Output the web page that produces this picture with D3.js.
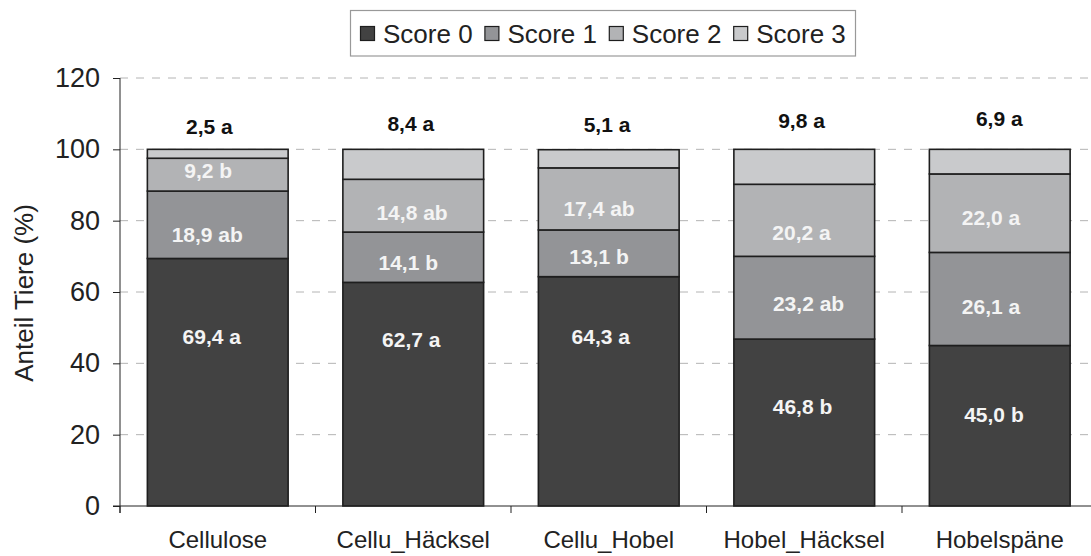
<!DOCTYPE html>
<html>
<head>
<meta charset="utf-8">
<script src="https://cdn.jsdelivr.net/npm/d3@7"></script>
<style>
  html, body { margin: 0; padding: 0; background: #fff; }
  svg { display: block; font-family: "Liberation Sans", Arial, sans-serif; }
</style>
</head>
<body>
<svg id="chart" width="1091" height="556"></svg>
<script>
// ---- data ----
const categories = ["Cellulose", "Cellu_Häcksel", "Cellu_Hobel", "Hobel_Häcksel", "Hobelspäne"];
const seriesNames = ["Score 0", "Score 1", "Score 2", "Score 3"];
const score0 = [69.4, 62.7, 64.3, 46.8, 45.0];
const score1 = [18.9, 14.1, 13.1, 23.2, 26.1];
const score2 = [9.2, 14.8, 17.4, 20.2, 22.0];
const score3 = [2.5, 8.4, 5.1, 9.8, 6.9];
const letters0 = ["a", "a", "a", "b", "b"];
const letters1 = ["ab", "b", "b", "ab", "a"];
const letters2 = ["b", "ab", "ab", "a", "a"];
const letters3 = ["a", "a", "a", "a", "a"];
const yTicks = [0, 20, 40, 60, 80, 100, 120];
const yTitle = "Anteil Tiere (%)";

// ---- layout / style (not data) ----
const colors = ["#424242", "#939497", "#b2b3b5", "#c9cacc"];
// label anchor heights (in axis units) chosen to match the manual label placement
const labelAt = [
  [47.5, 76.0, 94.0, 106.3],
  [46.7, 68.2, 82.2, 107.1],
  [47.5, 69.9, 83.5, 106.8],
  [27.8, 56.6, 76.6, 108.1],
  [25.5, 55.9, 80.9, 108.7]
];
const labelShift = [
  [-6, -10.5, -9.5, -8.4],
  [-2, -5, -1.2, -2.5],
  [-8, -9.7, -9.7, -1.7],
  [-1.7, 4.3, -2.7, -2.7],
  [-5.8, -8.7, -8.7, -0.5]
];

const series = [score0, score1, score2, score3];
const letters = [letters0, letters1, letters2, letters3];

const svg = d3.select("#chart");
const x = d3.scaleBand().domain(categories).range([120, 1097.5]).paddingInner(0.28).paddingOuter(0.14);
const y = d3.scaleLinear().domain([0, 120]).range([506, 78]);

// grid lines
svg.append("g").selectAll("line").data(yTicks.filter(d => d > 0)).join("line")
  .attr("x1", 120).attr("x2", 1097)
  .attr("y1", d => y(d)).attr("y2", d => y(d))
  .attr("stroke", "#b4b4b4").attr("stroke-width", 1)
  .attr("stroke-dasharray", "8,8");

// stacked data
const rows = categories.map((c, i) => {
  const r = { cat: c };
  seriesNames.forEach((s, j) => r[s] = series[j][i]);
  return r;
});
const stacked = d3.stack().keys(seriesNames)(rows);

const gBars = svg.append("g");
stacked.forEach((layer, j) => {
  gBars.append("g").selectAll("rect").data(layer).join("rect")
    .attr("x", d => x(d.data.cat))
    .attr("width", x.bandwidth())
    .attr("y", d => y(d[1]))
    .attr("height", d => y(d[0]) - y(d[1]))
    .attr("fill", colors[j])
    .attr("stroke", "#1e1e1e")
    .attr("stroke-width", 1.6);
});

// y axis
const yAxis = d3.axisLeft(y).tickValues(yTicks).tickSize(7).tickPadding(13).tickFormat(d3.format("d"));
const gy = svg.append("g").attr("transform", "translate(120,0)").call(yAxis);
gy.select(".domain").attr("stroke", "#222").attr("d", "M0,78V513");
gy.selectAll(".tick line").attr("stroke", "#222");
gy.selectAll(".tick text").attr("font-size", 27).attr("fill", "#222")
  .attr("font-family", "Liberation Sans, Arial, sans-serif");

// x axis
const gx = svg.append("g").attr("transform", "translate(0,506)");
gx.append("line").attr("x1", 113).attr("x2", 1097).attr("y1", 0).attr("y2", 0).attr("stroke", "#222");
const bounds = categories.map(c => x(c) - x.step() * x.paddingInner() / 2);
gx.selectAll("line.tk").data(bounds).join("line").attr("class", "tk")
  .attr("x1", d => d).attr("x2", d => d).attr("y1", 0).attr("y2", 7).attr("stroke", "#222");
gx.selectAll("text").data(categories).join("text")
  .attr("x", d => x(d) + x.bandwidth() / 2)
  .attr("y", 34)
  .attr("dy", "0.35em")
  .attr("text-anchor", "middle")
  .attr("font-size", 24)
  .attr("fill", "#222")
  .text(d => d);

// y title
svg.append("text")
  .attr("transform", "translate(24,293) rotate(-90)")
  .attr("text-anchor", "middle")
  .attr("dy", "0.35em")
  .attr("font-size", 26)
  .attr("fill", "#222")
  .text(yTitle);

// value labels
const fmt = v => d3.format(".1f")(v).replace(".", ",");
series.forEach((vals, j) => {
  svg.append("g").selectAll("text").data(vals).join("text")
    .attr("x", (d, i) => x(categories[i]) + x.bandwidth() / 2 + labelShift[i][j])
    .attr("y", (d, i) => y(labelAt[i][j]))
    .attr("dy", "0.35em")
    .attr("text-anchor", "middle")
    .attr("font-size", 21)
    .attr("font-weight", "bold")
    .attr("fill", j === 3 ? "#111" : "#f4f4f4")
    .text((d, i) => fmt(d) + " " + letters[j][i]);
});

// legend
const lg = svg.append("g");
lg.append("rect").attr("x", 350.5).attr("y", 10.5).attr("width", 505).attr("height", 45.5)
  .attr("fill", "#fff").attr("stroke", "#999").attr("stroke-width", 1.2);
const item = lg.selectAll("g.item").data(seriesNames).join("g").attr("class", "item")
  .attr("transform", (d, i) => `translate(${360 + i * 124.4},0)`);
item.append("rect").attr("x", 0.5).attr("y", 26.5).attr("width", 14).attr("height", 14)
  .attr("fill", (d, i) => colors[i]).attr("stroke", "#1e1e1e").attr("stroke-width", 1.2);
item.append("text").attr("x", 23).attr("y", 33.5).attr("dy", "0.35em")
  .attr("font-size", 26).attr("fill", "#222").text(d => d);
</script>
</body>
</html>
